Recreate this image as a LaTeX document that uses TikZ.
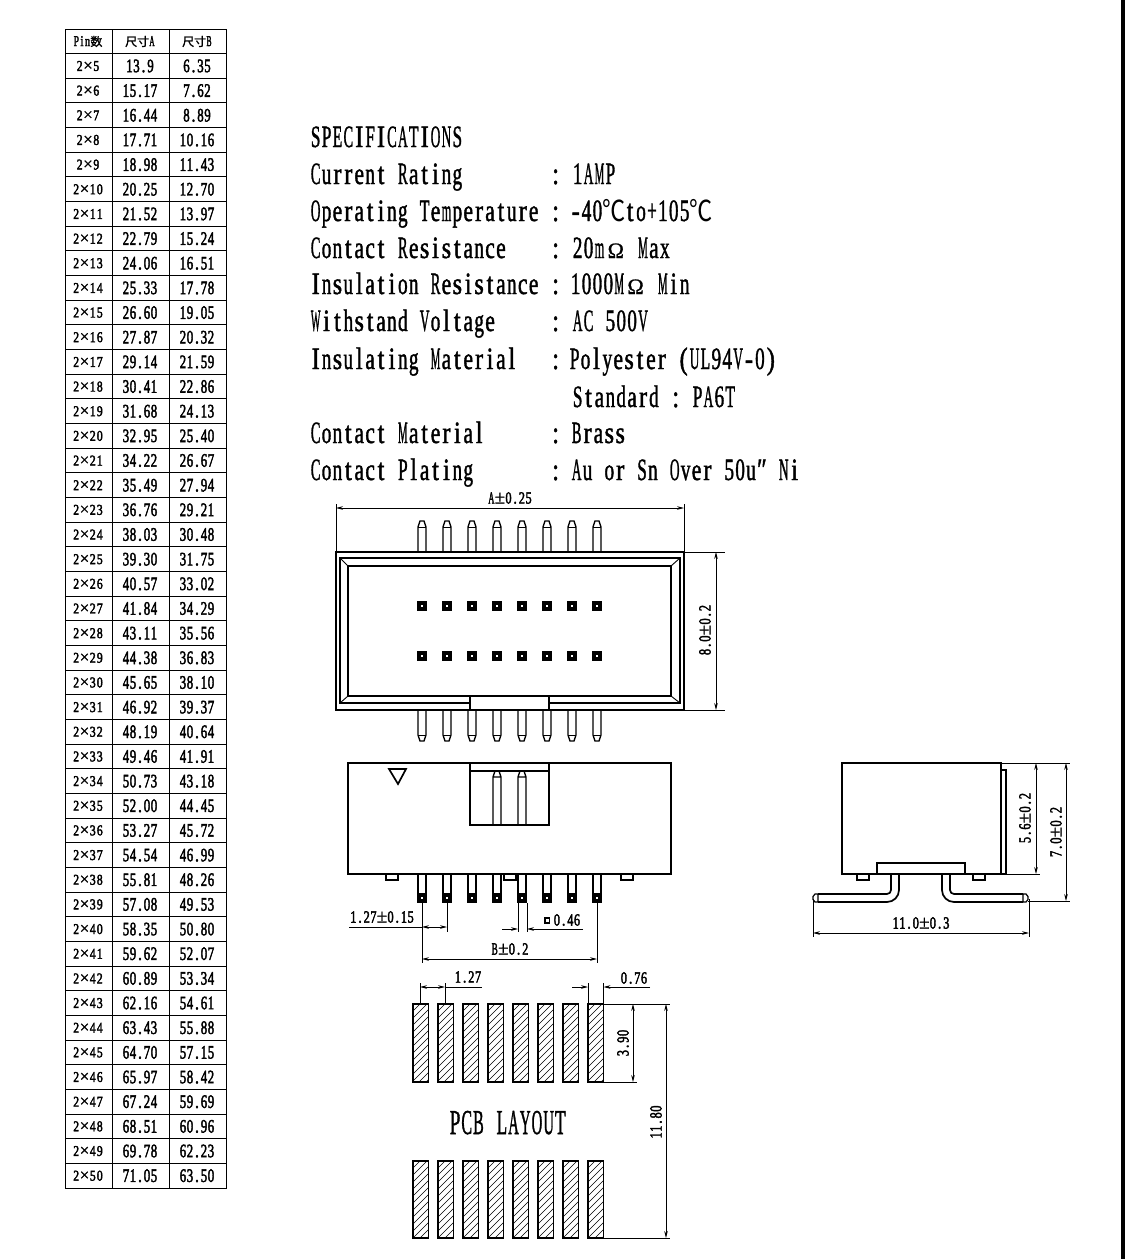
\documentclass[tikz,border=0pt]{standalone}
\usepackage{fontspec}
\usepackage{graphicx}
\usetikzlibrary{arrows.meta}
\newfontfamily\spfont[FakeStretch=0.78,FakeBold=1.4]{Liberation Serif}
\newfontfamily\smfont[FakeStretch=0.78,FakeBold=2.4]{Liberation Serif}
\newfontfamily\plainser[FakeBold=1]{Liberation Serif}
\newfontfamily\cnfont[FakeStretch=0.8]{Noto Sans CJK SC}
\newfontfamily\cnbold[FakeBold=1.5]{Noto Sans CJK SC}
\newsavebox\gbox
\newlength\cellw
\newlength\cellmax
\newcommand\glyphcell[1]{\sbox\gbox{#1}\ifdim\wd\gbox>\cellmax\makebox[\cellw][c]{\resizebox{\cellmax}{\ht\gbox}{#1}}\else\makebox[\cellw][c]{#1}\fi}
\ExplSyntaxOn
\NewDocumentCommand\mono{m}{\exp_args:Ne\str_map_inline:nn{#1}{\glyphcell{##1}}}
\ExplSyntaxOff
\newcommand\bigf{\setlength\cellw{10.9pt}\setlength\cellmax{9.6pt}}
\newcommand\dimf{\setlength\cellw{6.7pt}\setlength\cellmax{6.1pt}}
\newcommand\valf{\setlength\cellw{7pt}\setlength\cellmax{6.4pt}}
\newcommand\headf{\setlength\cellw{5.6pt}\setlength\cellmax{5.2pt}}
\newcommand\pcbf{\setlength\cellw{11.7pt}\setlength\cellmax{10.6pt}}
\newcommand\ohm{\makebox[21.8pt][c]{{\plainser\fontsize{22}{22}\selectfont Ω}}}
\newcommand\degc{\makebox[21.8pt][c]{{\cnfont\fontsize{29}{29}\selectfont ℃}}}
\newcommand\pmg{{\plainser\fontsize{19}{19}\selectfont ±}}
\newcommand\tmg{{\plainser\fontsize{17}{17}\selectfont ×}}
\tikzset{
 heavy/.style={line width=1.7pt,black},
 thin/.style={line width=0.9pt,black},
 hair/.style={line width=0.6pt,black},
 pinline/.style={line width=1.4pt,black},
 dimline/.style={line width=0.8pt,black,{Stealth[length=7pt,width=3.6pt]}-{Stealth[length=7pt,width=3.6pt]}},
 dimhead/.style={line width=0.8pt,black,-{Stealth[length=7pt,width=3.6pt]}},
 extline/.style={line width=0.8pt,black},
 spec/.style={anchor=base west,inner sep=0pt,font=\fontsize{31}{31}\spfont\bigf},
 dimtext/.style={inner sep=0pt,font=\fontsize{17}{17}\smfont\dimf},
 cellhead/.style={inner sep=0pt,font=\fontsize{15}{15}\smfont\headf},
 cellval/.style={inner sep=0pt,font=\fontsize{19}{19}\smfont\valf},
 cellpin/.style={inner sep=0pt,font=\fontsize{15}{15}\smfont\valf},
}
\begin{document}
\begin{tikzpicture}[x=1pt,y=-1pt]
\useasboundingbox[fill=white] (0,0) rectangle (1125,1259);
\fill[black] (1121,0) rectangle (1125,1259);
% ---- table
\draw[thin,line width=1pt] (65,29) rectangle (226,1188);
\draw[thin,line width=1pt] (112,29) -- (112,1188) (169,29) -- (169,1188);
\foreach \i in {1,...,46} \draw[thin,line width=1pt] (65,{29+\i*24.66}) -- (226,{29+\i*24.66});
\node[cellhead] (h1) at (88,41.5) {\mono{Pin}{\cnbold\fontsize{12}{12}\selectfont 数}};
\node[cellhead] (h2) at (140,41.5) {{\cnbold\fontsize{12}{12}\selectfont 尺寸}\mono{A}};
\node[cellhead] (h3) at (197,41.5) {{\cnbold\fontsize{12}{12}\selectfont 尺寸}\mono{B}};
\foreach \n/\a/\b [count=\r] in {
5/13.9/6.35,6/15.17/7.62,7/16.44/8.89,8/17.71/10.16,9/18.98/11.43,10/20.25/12.70,
11/21.52/13.97,12/22.79/15.24,13/24.06/16.51,14/25.33/17.78,15/26.60/19.05,16/27.87/20.32,
17/29.14/21.59,18/30.41/22.86,19/31.68/24.13,20/32.95/25.40,21/34.22/26.67,22/35.49/27.94,
23/36.76/29.21,24/38.03/30.48,25/39.30/31.75,26/40.57/33.02,27/41.84/34.29,28/43.11/35.56,
29/44.38/36.83,30/45.65/38.10,31/46.92/39.37,32/48.19/40.64,33/49.46/41.91,34/50.73/43.18,
35/52.00/44.45,36/53.27/45.72,37/54.54/46.99,38/55.81/48.26,39/57.08/49.53,40/58.35/50.80,
41/59.62/52.07,42/60.89/53.34,43/62.16/54.61,44/63.43/55.88,45/64.70/57.15,46/65.97/58.42,
47/67.24/59.69,48/68.51/60.96,49/69.78/62.23,50/71.05/63.50}{
 \node[cellpin] (p\r) at (88,{29+(\r+0.5)*24.66}) {\mono{2}\tmg\mono{\n}};
 \node[cellval] (a\r) at (140,{29+(\r+0.5)*24.66}) {\mono{\a}};
 \node[cellval] (b\r) at (197,{29+(\r+0.5)*24.66}) {\mono{\b}};
}
% ---- specifications
\node[spec] (s0) at (310,147) {\mono{SPECIFICATIONS}};
\node[spec] (s1) at (310,184) {\mono{Current Rating}};
\node[spec] (s2) at (310,221) {\mono{Operating Temperature}};
\node[spec] (s3) at (310,258) {\mono{Contact Resistance}};
\node[spec] (s4) at (310,294) {\mono{Insulation Resistance}};
\node[spec] (s5) at (310,331) {\mono{Withstand Voltage}};
\node[spec] (s6) at (310,369) {\mono{Insulating Material}};
\node[spec] (s8) at (310,443) {\mono{Contact Material}};
\node[spec] (s9) at (310,480) {\mono{Contact Plating}};
\foreach \y/\nm in {184/c1,221/c2,258/c3,294/c4,331/c5,369/c6,443/c8,480/c9}
 \node[spec] (\nm) at (550,\y) {\mono{:}};
\node[spec] (v1) at (572,184) {\mono{1AMP}};
\node[spec] (v2) at (570,221) {\mono{-40}\degc\mono{to+105}\degc};
\node[spec] (v3) at (572,258) {\mono{20m}\ohm\mono{ Max}};
\node[spec] (v4) at (570,294) {\mono{1000M}\ohm\mono{ Min}};
\node[spec] (v5) at (572,331) {\mono{AC 500V}};
\node[spec] (v6) at (569,369) {\mono{Polyester (UL94V-0)}};
\node[spec] (v7) at (572,407) {\mono{Standard : PA6T}};
\node[spec] (v8) at (571,443) {\mono{Brass}};
\node[spec] (v9) at (571,480) {\mono{Au or Sn Over 50u″ Ni}};
% ---- top view
\foreach \x in {392,510,627} \fill (\x-3,552) arc[start angle=180,end angle=0,radius=3];
\foreach \x in {422,447,472,497,522,547,572,597}{
 \draw[pinline,fill=white] (\x-4,552) -- (\x-4,527) -- (\x-2,521) -- (\x+2,521) -- (\x+4,527) -- (\x+4,552);
 \draw[hair] (\x-4,527) -- (\x+4,527);
 \draw[pinline,fill=white] (\x-4,710) -- (\x-4,735) -- (\x-2,741) -- (\x+2,741) -- (\x+4,735) -- (\x+4,710);
 \draw[hair] (\x-4,735) -- (\x+4,735);
}
\draw[heavy,fill=white] (336,552) rectangle (684,710);
\draw[heavy] (340,558) rectangle (680,703);
\draw[heavy] (348,566) rectangle (671,696);
\draw[thin] (340,558) -- (348,566) (680,558) -- (671,566) (340,703) -- (348,696) (680,703) -- (671,696);
\draw[heavy,fill=white] (470,696) rectangle (549,710);
\foreach \x in {422,447,472,497,522,547,572,597}
 \foreach \y in {606,656}{
  \fill (\x-5,\y-5) rectangle (\x+5,\y+5);
  \fill[white] (\x-1,\y-1) rectangle (\x+1,\y+1);
 }
\coordinate (al) at (336,508); \coordinate (ar) at (684,508);
\draw[extline] (336,504) -- (336,552) (684,504) -- (684,552);
\draw[dimline] (al) -- (ar);
\node[dimtext] (dA) at (510,498) {\mono{A}\pmg\mono{0.25}};
\coordinate (ht) at (716,552); \coordinate (hb) at (716,710);
\draw[extline] (684,552) -- (725,552) (684,710) -- (725,710);
\draw[dimline] (ht) -- (hb);
\node[dimtext,rotate=90] (dH) at (705,630) {\mono{8.0}\pmg\mono{0.2}};
% ---- front view
\foreach \x in {386,504,621} \draw[pinline,line width=1.2pt] (\x,874) rectangle (\x+12,880);
\foreach \x in {422,447,472,497,522,547,572,597}{
 \draw[pinline] (\x-4,874) -- (\x-4,893) (\x+4,874) -- (\x+4,893);
 \fill (\x-5,893) rectangle (\x+5,903);
 \fill[white] (\x-1,897) rectangle (\x+1,899);
}
\draw[heavy] (348,763) rectangle (671,874);
\draw[heavy] (389,769) -- (406,769) -- (398,784) -- cycle;
\draw[heavy] (470,763) rectangle (549,825);
\draw[heavy] (470,771) -- (549,771);
\foreach \x in {497,522}
 \draw[pinline] (\x-4,825) -- (\x-4,777) -- (\x-2,771) (\x+2,771) -- (\x+4,777) -- (\x+4,825) (\x-4,777) -- (\x+4,777);
% front dimensions
\coordinate (w1) at (349,927); \coordinate (w2) at (422,927); \coordinate (w3) at (447,927);
\draw[extline] (422,903) -- (422,963) (447,903) -- (447,932);
\draw[extline] (w1) -- (w2);
\draw[dimline] (w2) -- (w3);
\node[dimtext] (d127) at (382,917) {\mono{1.27}\pmg\mono{0.15}};
\coordinate (b1) at (422,959); \coordinate (b2) at (597,959);
\draw[extline] (597,903) -- (597,963);
\draw[dimline] (b1) -- (b2);
\node[dimtext] (dB) at (510,949) {\mono{B}\pmg\mono{0.2}};
\coordinate (c1l) at (502,929); \coordinate (c1r) at (518,929); \coordinate (c2l) at (527,929); \coordinate (c2r) at (583,929);
\draw[extline] (518,903) -- (518,932) (527,903) -- (527,932);
\draw[dimhead] (c1l) -- (c1r);
\draw[dimhead] (c2r) -- (c2l);
\draw[thin,line width=1.1pt] (545,918) rectangle (549.5,923);
\node[dimtext] (d046) at (567,920) {\mono{0.46}};
% ---- side view
\draw[heavy] (842,763) rectangle (1001,874);
\draw[heavy] (1001,770) -- (1006,770) -- (1006,874) -- (1001,874);
\draw[heavy] (877,874) -- (877,863) -- (965,863) -- (965,874);
\foreach \x in {857,973} \draw[pinline,line width=1.2pt] (\x,874) rectangle (\x+12,880);
\draw[heavy] (891,874) -- (891,890) arc[start angle=0,end angle=90,radius=4] -- (818,894);
\draw[heavy] (899,874) -- (899,890) arc[start angle=0,end angle=90,radius=12] -- (818,902);
\draw[heavy] (950,874) -- (950,890) arc[start angle=180,end angle=90,radius=4] -- (1023,894);
\draw[heavy] (942,874) -- (942,890) arc[start angle=180,end angle=90,radius=12] -- (1023,902);
\draw[pinline,line width=1.2pt] (818,894) -- (815,894) -- (813,896.5) -- (813,899.5) -- (815,902) -- (818,902) -- cycle;
\draw[pinline,line width=1.2pt] (1023,894) -- (1026,894) -- (1028,896.5) -- (1028,899.5) -- (1026,902) -- (1023,902) -- cycle;
\coordinate (sa) at (1036,763); \coordinate (sb) at (1036,874);
\draw[extline] (1001,763) -- (1070,763) (1006,874) -- (1040,874) (1028,901) -- (1070,901);
\draw[dimline] (sa) -- (sb);
\node[dimtext,rotate=90] (d56) at (1025,818) {\mono{5.6}\pmg\mono{0.2}};
\coordinate (ta) at (1066,763); \coordinate (tb) at (1066,901);
\draw[dimline] (ta) -- (tb);
\node[dimtext,rotate=90] (d70) at (1056,832) {\mono{7.0}\pmg\mono{0.2}};
\coordinate (la) at (813,933); \coordinate (lb) at (1029,933);
\draw[extline] (813,899) -- (813,937) (1029,899) -- (1029,937);
\draw[dimline] (la) -- (lb);
\node[dimtext] (d110) at (921,923) {\mono{11.0}\pmg\mono{0.3}};
% ---- PCB layout
\foreach \x in {413,438,463,488,513,538,563,588}
 \foreach \y/\yy in {1004/1082,1161/1238}{
  \begin{scope}
   \clip (\x,\y) rectangle (\x+15.5,\yy);
   \foreach \d in {0,7,...,98}
    \draw[hair] (\x,\y+\d) -- (\x+40,\y+\d-40);
  \end{scope}
  \draw[heavy] (\x,\y) rectangle (\x+15.5,\yy);
 }
\draw[extline] (420,983) -- (420,1003) (445,983) -- (445,1003);
\coordinate (pa) at (420,987); \coordinate (pb) at (445,987); \coordinate (pc) at (482,987);
\draw[dimline] (pa) -- (pb);
\draw[extline] (pb) -- (pc);
\node[dimtext] (d127b) at (468,977) {\mono{1.27}};
\draw[extline] (588,983) -- (588,1003) (603.5,983) -- (603.5,1003);
\coordinate (qa) at (572,987); \coordinate (qb) at (588,987); \coordinate (qc) at (603.5,987); \coordinate (qd) at (650,987);
\draw[dimhead] (qa) -- (qb);
\draw[dimhead] (qd) -- (qc);
\node[dimtext] (d076) at (634,978) {\mono{0.76}};
\draw[extline] (604,1004) -- (670,1004) (604,1082) -- (637,1082) (604,1238) -- (670,1238);
\coordinate (ra) at (633,1004); \coordinate (rb) at (633,1082);
\draw[dimline] (ra) -- (rb);
\node[dimtext,rotate=90] (d390) at (623,1043) {\mono{3.90}};
\coordinate (ua) at (666,1004); \coordinate (ub) at (666,1238);
\draw[dimline] (ua) -- (ub);
\node[dimtext,rotate=90] (d1180) at (656,1122) {\mono{11.80}};
\node[spec,font=\fontsize{35}{35}\spfont\pcbf] (pcb) at (449,1134) {\mono{PCB LAYOUT}};
\end{tikzpicture}
\end{document}
